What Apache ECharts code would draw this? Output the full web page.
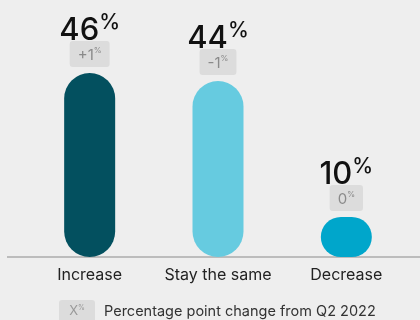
<!DOCTYPE html>
<html><head><meta charset="utf-8">
<script src="https://cdn.jsdelivr.net/npm/echarts@6/dist/echarts.min.js"></script>
<style>html,body{margin:0;padding:0;background:#eeeeee}#c{width:420px;height:320px}</style>
</head><body><div id="c"></div>
<script>
const categories = ['Increase', 'Stay the same', 'Decrease'];
const values = [46, 44, 10];
const changes = ['+1', '-1', '0'];
const legendText = 'Percentage point change from Q2 2022';

const barColors = ['#03505f', '#66cbe0', '#00a6cb'];
const FONT = 'Inter, "Noto Sans", sans-serif';

const chart = echarts.init(document.getElementById('c'), null, { renderer: 'canvas' });
chart.setOption({
  backgroundColor: '#eeeeee',
  animation: false,
  textStyle: { fontFamily: FONT },
  grid: { left: 25.5, right: 9.5, top: 57, bottom: 63 },
  xAxis: {
    type: 'category',
    data: categories,
    axisLine: { show: false },
    axisTick: { show: false },
    axisLabel: { interval: 0, fontSize: 16, color: '#222', margin: 10, fontFamily: FONT }
  },
  yAxis: { type: 'value', min: 0, max: 50, show: false, splitLine: { show: false } },
  series: [
    {
      type: 'bar',
      barWidth: 51,
      data: values.map((v, i) => ({ value: v, itemStyle: { color: barColors[i] } })),
      itemStyle: { borderRadius: 26 },
      label: {
        show: true,
        position: 'top',
        distance: 6,
        backgroundColor: '#dcdcdc',
        borderRadius: 3,
        padding: [6, 8, 4, 8],
        formatter: p => `{t|${changes[p.dataIndex]}}{p|%}`,
        rich: {
          t: { fontSize: 15, color: '#8a8a8a', fontFamily: FONT, lineHeight: 16, verticalAlign: 'bottom' },
          p: { fontSize: 8, color: '#8a8a8a', fontFamily: FONT, lineHeight: 12, verticalAlign: 'top' }
        }
      }
    },
    {
      type: 'bar',
      barWidth: 51,
      barGap: '-100%',
      data: values,
      itemStyle: { color: 'rgba(0,0,0,0)' },
      label: {
        show: true,
        position: 'top',
        distance: 27,
        formatter: p => `{n|${p.value}}{p|%}`,
        rich: {
          n: { fontSize: 31, fontWeight: 500, color: '#111', fontFamily: FONT, lineHeight: 34, verticalAlign: 'bottom' },
          p: { fontSize: 21, fontWeight: 500, color: '#111', fontFamily: FONT, lineHeight: 32, verticalAlign: 'top' }
        }
      }
    }
  ],
  graphic: [
    { type: 'line', shape: { x1: 7, y1: 257, x2: 420, y2: 257 }, style: { stroke: '#bcbcbc', lineWidth: 2 }, silent: true },
    { type: 'rect', shape: { x: 59, y: 300, width: 36, height: 24, r: 3 }, style: { fill: '#dcdcdc' } },
    { type: 'text', x: 77, y: 311, style: { text: '{x|X}{p|%}', align: 'center', verticalAlign: 'middle',
        rich: { x: { fontSize: 13, fill: '#999', fontFamily: FONT, lineHeight: 14, verticalAlign: 'bottom' },
                p: { fontSize: 7, fill: '#999', fontFamily: FONT, lineHeight: 10, verticalAlign: 'top' } } } },
    { type: 'text', x: 104, y: 312, style: { text: legendText, fontSize: 14.5, fill: '#333', fontFamily: FONT, verticalAlign: 'middle' } }
  ]
});
</script></body></html>
